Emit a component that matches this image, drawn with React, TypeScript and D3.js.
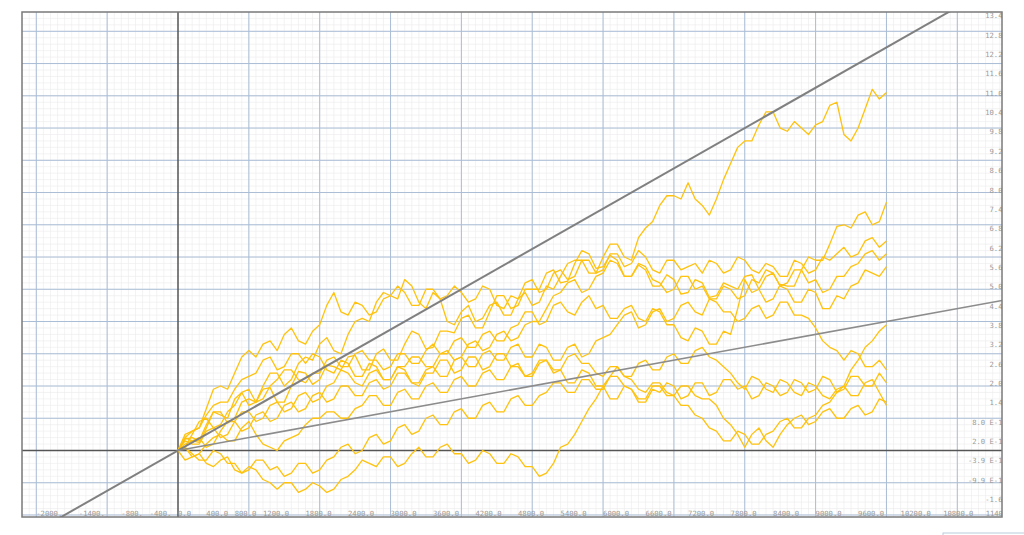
import * as d3 from 'd3'

// sample positions of every walk (steps along x)
const sampleX = d3.range(0, 10001, 100)

// ten random-walk paths, one value per sample
const walkA = [0, 0.35, 0.4, 0.3, 0.8, 1.2, 1.1, 1.0, 1.6, 1.8, 1.4, 1.5, 2.0, 2.4, 2.4, 2.0, 2.2, 2.7, 2.9, 2.8, 3.3, 3.5, 3.1, 3.0, 3.6, 4.0, 4.1, 4.0, 4.6, 4.9, 4.8, 4.7, 5.3, 5.1, 4.6, 4.4, 4.9, 4.7, 4.0, 3.9, 4.3, 4.5, 4.0, 4.1, 4.5, 4.6, 4.2, 4.2, 4.7, 4.9, 4.5, 4.6, 5.1, 5.0, 5.4, 5.8, 5.9, 5.9, 5.5, 5.5, 6.0, 6.4, 6.4, 6.0, 5.9, 6.6, 6.9, 7.1, 7.6, 7.9, 7.9, 7.8, 8.3, 7.8, 7.6, 7.3, 7.8, 8.4, 8.9, 9.4, 9.6, 9.6, 10.1, 10.5, 10.5, 10.0, 9.9, 10.2, 10.0, 9.8, 10.1, 10.2, 10.7, 10.8, 9.8, 9.6, 10.0, 10.6, 11.2, 10.9, 11.1]
const walkB = [0, 0.4, 0.3, 0.25, 0.7, 1.2, 1.2, 0.85, 1.0, 1.5, 1.6, 1.5, 1.9, 1.95, 1.5, 1.5, 2.0, 2.45, 2.4, 2.05, 2.2, 2.65, 2.6, 2.5, 2.9, 2.95, 2.5, 2.5, 3.0, 3.15, 2.8, 2.8, 3.3, 3.7, 3.6, 3.15, 3.2, 3.7, 3.7, 3.65, 4.1, 4.2, 3.8, 3.8, 4.3, 4.8, 4.8, 4.4, 4.5, 5.0, 5.0, 5.0, 5.5, 5.6, 5.2, 5.25, 5.8, 6.2, 6.1, 5.65, 5.7, 6.05, 5.9, 5.4, 5.4, 5.75, 5.6, 5.1, 5.1, 5.45, 5.3, 4.85, 4.9, 5.3, 5.2, 4.75, 4.8, 5.2, 5.1, 5.0, 5.4, 5.45, 5.0, 4.6, 4.7, 5.15, 5.1, 5.1, 5.6, 6.0, 5.9, 5.9, 6.4, 6.95, 7.0, 6.9, 7.3, 7.4, 7.0, 7.1, 7.7]
const walkC = [0, 0.5, 0.6, 0.7, 1.3, 1.9, 2.0, 1.9, 2.4, 2.9, 3.1, 2.9, 3.3, 3.4, 3.1, 3.6, 3.8, 3.4, 3.3, 3.7, 3.9, 4.5, 4.9, 4.3, 4.2, 4.6, 4.5, 4.2, 4.3, 4.7, 4.8, 5.1, 4.9, 4.5, 4.5, 5.0, 5.0, 4.7, 4.8, 5.1, 4.9, 4.6, 4.7, 5.1, 5.0, 4.5, 4.4, 4.8, 4.7, 5.2, 5.3, 4.9, 5.0, 5.5, 5.6, 5.3, 5.4, 5.9, 5.9, 5.5, 5.6, 6.1, 6.1, 5.7, 5.8, 6.2, 6.0, 5.6, 5.5, 5.9, 5.9, 5.6, 5.7, 5.8, 5.5, 5.9, 5.8, 5.5, 5.6, 6.0, 5.9, 5.6, 5.5, 5.8, 5.7, 5.4, 5.4, 5.9, 5.8, 5.5, 5.6, 6.0, 5.9, 6.1, 6.3, 6.0, 6.1, 6.5, 6.6, 6.3, 6.5]
const walkD = [0, 0.1, 0.5, 0.9, 1.0, 0.7, 0.8, 1.2, 1.4, 1.8, 1.9, 1.5, 1.6, 2.0, 2.2, 2.5, 2.5, 2.2, 2.1, 2.4, 2.4, 2.8, 2.9, 2.6, 2.6, 3.0, 3.1, 2.8, 2.8, 2.5, 2.6, 3.0, 3.0, 2.7, 2.7, 3.1, 3.3, 3.0, 3.0, 3.4, 3.5, 3.2, 3.2, 3.6, 3.7, 3.4, 3.4, 3.8, 3.9, 4.3, 4.3, 3.9, 4.0, 4.5, 4.6, 4.3, 4.2, 4.6, 4.8, 4.4, 4.5, 4.1, 4.1, 4.4, 4.5, 4.1, 4.0, 4.4, 4.3, 3.9, 3.9, 3.5, 3.4, 3.8, 3.7, 3.3, 3.3, 3.7, 3.6, 4.4, 5.3, 4.9, 5.0, 5.4, 5.5, 5.1, 5.2, 5.6, 5.6, 5.2, 5.3, 4.9, 5.0, 5.4, 5.4, 5.7, 5.8, 6.1, 6.2, 5.9, 6.1]
const walkE = [0, 0.3, 0.2, 0.2, 0.6, 0.7, 0.4, 0.5, 0.9, 1.2, 1.2, 0.9, 1.0, 1.4, 1.5, 1.2, 1.3, 1.7, 1.8, 1.5, 1.6, 2.0, 2.1, 2.5, 2.4, 2.1, 2.0, 2.4, 2.5, 2.2, 2.2, 2.6, 2.6, 2.9, 2.9, 2.6, 2.6, 3.0, 3.1, 2.8, 2.9, 3.3, 3.4, 3.1, 3.2, 3.6, 3.7, 3.4, 3.5, 3.9, 4.0, 4.0, 4.4, 4.8, 4.9, 5.2, 5.3, 4.9, 5.0, 5.4, 5.5, 5.9, 5.8, 5.4, 5.4, 5.8, 5.7, 5.3, 5.2, 4.9, 5.0, 5.4, 5.4, 5.0, 5.1, 4.7, 4.7, 5.1, 5.0, 4.7, 4.8, 5.3, 5.2, 5.6, 5.5, 5.1, 5.0, 4.6, 4.6, 5.0, 4.9, 4.4, 4.4, 4.8, 4.7, 5.1, 5.2, 5.6, 5.5, 5.4, 5.7]
const walkF = [0, 0.2, 0.3, 0.4, 0.1, 0.2, 0.6, 0.9, 0.9, 0.6, 0.7, 1.1, 1.2, 0.9, 1.0, 1.4, 1.5, 1.2, 1.3, 1.7, 1.8, 1.5, 1.6, 2.0, 2.0, 1.7, 1.7, 2.1, 2.2, 1.9, 2.0, 2.4, 2.4, 2.1, 2.1, 2.5, 2.6, 2.3, 2.3, 2.8, 2.9, 2.6, 2.6, 3.0, 3.1, 2.8, 2.8, 3.2, 3.3, 2.9, 2.9, 3.3, 3.2, 2.8, 2.8, 3.2, 3.3, 2.9, 3.0, 3.4, 3.5, 3.6, 3.9, 4.2, 4.3, 3.8, 3.9, 4.3, 4.4, 4.0, 4.1, 4.5, 4.6, 4.3, 4.2, 4.7, 4.6, 4.3, 4.3, 4.0, 4.1, 4.4, 4.5, 4.1, 4.2, 4.6, 4.6, 4.2, 4.2, 4.1, 3.8, 3.4, 3.2, 3.1, 2.8, 3.1, 3.0, 2.6, 2.6, 2.8, 2.5]
const walkG = [0, 0.4, 0.6, 0.7, 1.1, 1.4, 1.5, 1.5, 1.9, 2.2, 2.3, 2.4, 2.8, 2.9, 2.5, 2.6, 3.0, 3.0, 2.7, 3.0, 2.9, 2.5, 2.4, 2.8, 2.7, 2.3, 2.3, 2.7, 2.6, 2.2, 2.2, 2.6, 2.5, 2.1, 2.0, 2.4, 2.4, 2.8, 2.8, 2.4, 2.5, 2.9, 2.9, 2.5, 2.6, 3.0, 3.0, 2.6, 2.7, 2.3, 2.4, 2.8, 2.8, 2.4, 2.5, 2.1, 2.1, 2.5, 2.4, 2.0, 2.0, 1.6, 1.6, 2.0, 1.9, 1.5, 1.5, 1.9, 1.8, 2.1, 2.0, 1.6, 1.7, 2.1, 2.1, 1.7, 1.8, 2.2, 2.2, 1.9, 2.0, 1.6, 1.7, 2.1, 2.0, 1.7, 1.8, 2.2, 2.1, 1.8, 1.9, 2.3, 2.2, 1.8, 1.9, 2.3, 2.3, 2.0, 2.0, 2.4, 2.1]
const walkH = [0, 0.1, -0.2, -0.1, 0.2, 0.4, 0.5, 0.3, 0.3, 0.7, 0.9, 0.5, 0.2, 0.1, 0.0, 0.3, 0.4, 0.5, 0.8, 1.0, 1.0, 1.2, 1.2, 1.0, 1.0, 1.3, 1.4, 1.7, 1.7, 1.4, 1.4, 1.8, 1.9, 1.6, 1.6, 2.0, 2.1, 1.8, 1.8, 2.2, 2.3, 2.0, 2.0, 2.4, 2.5, 2.2, 2.2, 2.6, 2.6, 2.3, 2.3, 2.7, 2.8, 2.5, 2.5, 2.9, 3.0, 2.7, 2.7, 2.4, 2.3, 2.6, 2.6, 2.3, 2.2, 1.9, 1.8, 2.1, 2.1, 1.8, 1.7, 2.0, 2.0, 1.7, 1.6, 1.6, 1.4, 1.0, 0.8, 0.5, 0.1, 0.5, 0.7, 0.3, 0.1, 0.5, 0.8, 1.0, 1.1, 0.8, 0.9, 1.2, 1.3, 1.0, 1.0, 1.3, 1.4, 1.1, 1.2, 1.6, 1.5]
const walkI = [0, 0.1, -0.1, -0.3, -0.3, 0.0, -0.1, -0.4, -0.4, -0.7, -0.6, -0.3, -0.3, -0.6, -0.5, -0.8, -0.7, -0.4, -0.4, -0.7, -0.6, -0.3, -0.2, 0.1, 0.2, -0.1, 0.0, 0.4, 0.5, 0.2, 0.3, 0.7, 0.8, 0.5, 0.6, 1.0, 1.1, 0.8, 0.8, 1.2, 1.3, 1.0, 1.0, 1.4, 1.5, 1.2, 1.2, 1.6, 1.7, 1.4, 1.4, 1.7, 1.8, 2.1, 2.1, 1.8, 1.8, 2.2, 2.2, 1.9, 1.9, 2.3, 2.3, 2.0, 1.9, 1.6, 1.6, 2.0, 2.0, 1.7, 1.7, 1.4, 1.4, 1.1, 1.0, 0.7, 0.6, 0.3, 0.3, 0.6, 0.5, 0.2, 0.2, 0.5, 0.6, 0.9, 1.0, 0.7, 0.7, 1.0, 1.1, 1.4, 1.5, 1.8, 2.0, 2.5, 2.8, 3.2, 3.4, 3.7, 3.9]
const walkJ = [0, -0.3, -0.2, -0.1, -0.4, -0.5, -0.3, -0.2, -0.6, -0.7, -0.5, -0.6, -0.9, -1.0, -1.2, -1.0, -1.0, -1.3, -1.2, -1.0, -1.1, -1.3, -1.2, -0.9, -0.8, -0.6, -0.3, -0.4, -0.5, -0.2, -0.2, -0.5, -0.4, -0.1, 0.1, -0.2, -0.2, 0.1, 0.2, -0.1, -0.1, -0.4, -0.3, 0.0, -0.1, -0.4, -0.4, -0.1, -0.2, -0.5, -0.5, -0.8, -0.7, -0.4, 0.1, 0.2, 0.5, 0.9, 1.3, 1.6, 2.0, 2.3, 2.6, 2.3, 2.3, 2.7, 2.8, 2.5, 2.5, 2.9, 3.0, 2.7, 2.7, 3.1, 3.2, 2.9, 2.8, 2.6, 2.4, 2.1, 1.9, 2.3, 2.2, 1.9, 1.8, 2.2, 2.1, 1.8, 1.7, 2.1, 2.0, 1.7, 1.6, 1.9, 2.0, 1.7, 1.7, 2.1, 2.2, 1.8, 1.4]
const walks = [walkA, walkB, walkC, walkD, walkE, walkF, walkG, walkH, walkI, walkJ]

// the two straight reference lines through the origin, as end points
const steepTrend: [number, number][] = [[-1800, -2.25], [11200, 14.0]]
const shallowTrend: [number, number][] = [[0, 0], [11800, 4.72]]

// tick labels as printed on the chart
const xTickValues = [-2000, -1400, -800, -400, 0, 400, 800, 1200, 1800, 2400, 3000, 3600, 4200, 4800, 5400, 6000, 6600, 7200, 7800, 8400, 9000, 9600, 10200, 10800, 11400]
const xTickLabels = ['-2000.', '-1400.', '-800.', '-400.', '0.0', '400.0', '800.0', '1200.0', '1800.0', '2400.0', '3000.0', '3600.0', '4200.0', '4800.0', '5400.0', '6000.0', '6600.0', '7200.0', '7800.0', '8400.0', '9000.0', '9600.0', '10200.0', '10800.0', '11400.0']
const yTickValues = [13.4, 12.8, 12.2, 11.6, 11.0, 10.4, 9.8, 9.2, 8.6, 8.0, 7.4, 6.8, 6.2, 5.6, 5.0, 4.4, 3.8, 3.2, 2.6, 2.0, 1.4, 0.8, 0.2, -0.4, -1.0, -1.6]
const yTickLabels = ['13.4', '12.8', '12.2', '11.6', '11.0', '10.4', '9.8', '9.2', '8.6', '8.0', '7.4', '6.8', '6.2', '5.6', '5.0', '4.4', '3.8', '3.2', '2.6', '2.0', '1.4', '8.0 E-1', '2.0 E-1', '-3.9 E-1', '-9.9 E-1', '-1.6']

const W = 1024
const H = 535
const plot = { left: 22, top: 12, right: 1002, bottom: 517 }

const x = d3.scaleLinear().domain([0, 11000]).range([178, 957.3])
const y = d3.scaleLinear().domain([0, 13]).range([450.5, 31.3])

const App = () => {
  const xMin = x.invert(plot.left)
  const xMax = x.invert(plot.right)
  const yMin = y.invert(plot.bottom)
  const yMax = y.invert(plot.top)

  const minorX = d3.range(Math.ceil(xMin / 100) * 100, xMax, 100)
  const minorY = d3.range(Math.ceil(yMin / 0.2) * 0.2, yMax, 0.2)
  const majorX = d3.range(Math.ceil(xMin / 1000) * 1000, xMax, 1000).filter((v) => v !== 0)
  const majorY = d3.range(Math.ceil(yMin), yMax, 1).filter((v) => v !== 0)

  const walkLine = d3
    .line<number>()
    .x((_, i) => x(sampleX[i]))
    .y((d) => y(d))

  const segLine = d3
    .line<[number, number]>()
    .x((d) => x(d[0]))
    .y((d) => y(d[1]))

  const font = '"DejaVu Sans Mono", monospace'

  return (
    <svg width={W} height={H} style={{ position: 'absolute', left: 0, top: 0, background: '#fff' }}>
      <defs>
        <clipPath id="plotClip">
          <rect x={plot.left} y={plot.top} width={plot.right - plot.left} height={plot.bottom - plot.top} />
        </clipPath>
      </defs>
      <g clipPath="url(#plotClip)">
        {minorX.map((v) => (
          <line key={'mx' + v} x1={x(v)} x2={x(v)} y1={plot.top} y2={plot.bottom} stroke="#ebebeb" strokeWidth={0.6} />
        ))}
        {minorY.map((v, i) => (
          <line key={'my' + i} x1={plot.left} x2={plot.right} y1={y(v)} y2={y(v)} stroke="#ebebeb" strokeWidth={0.6} />
        ))}
        {majorX.map((v) => (
          <line key={'Mx' + v} x1={x(v)} x2={x(v)} y1={plot.top} y2={plot.bottom} stroke="#aabdd6" strokeWidth={1} />
        ))}
        {majorY.map((v) => (
          <line key={'My' + v} x1={plot.left} x2={plot.right} y1={y(v)} y2={y(v)} stroke="#aabdd6" strokeWidth={1} />
        ))}
        <line x1={x(0)} x2={x(0)} y1={plot.top} y2={plot.bottom} stroke="#555" strokeWidth={1.5} />
        <line x1={plot.left} x2={plot.right} y1={y(0)} y2={y(0)} stroke="#555" strokeWidth={1.5} />

        {walks.map((w, i) => (
          <path key={'w' + i} d={walkLine(w) ?? ''} fill="none" stroke="#ffc20e" strokeWidth={1.3} strokeLinejoin="round" />
        ))}

        <path d={segLine(steepTrend) ?? ''} stroke="#808080" strokeWidth={2} fill="none" />
        <path d={segLine(shallowTrend) ?? ''} stroke="#8c8c8c" strokeWidth={1.6} fill="none" />

        {xTickValues.map((v, i) => (
          <text key={'xt' + v} x={x(v)} y={plot.bottom - 1} fontFamily={font} fontSize={7.2} fill="#9a9a9a">
            {xTickLabels[i]}
          </text>
        ))}
        {yTickValues.map((v, i) => (
          <text key={'yt' + i} x={plot.right + 0.5} y={y(v)} fontFamily={font} fontSize={7.2} fill="#9a9a9a" textAnchor="end">
            {yTickLabels[i]}
          </text>
        ))}
      </g>
      <rect x={plot.left} y={plot.top} width={plot.right - plot.left} height={plot.bottom - plot.top} fill="none" stroke="#7a7a7a" strokeWidth={1.5} />
      <rect x={943} y={533} width={90} height={12} fill="none" stroke="#b9c9dd" strokeWidth={1} />
    </svg>
  )
}

export default App
